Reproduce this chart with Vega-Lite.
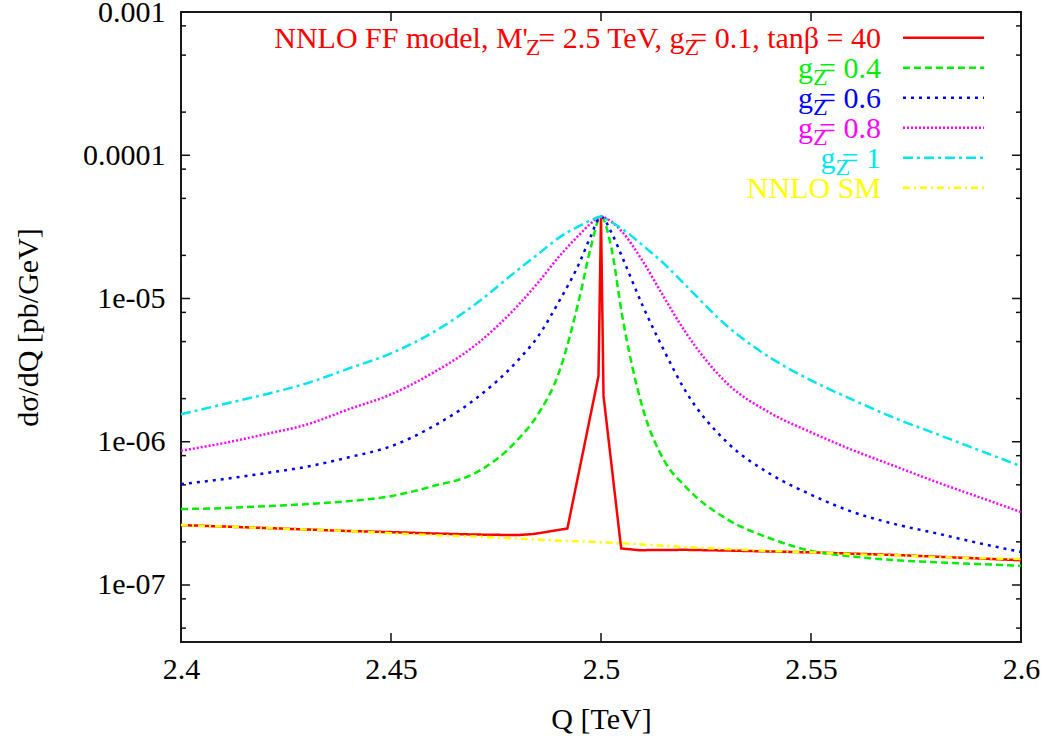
{
  "$schema": "https://vega.github.io/schema/vega-lite/v6.json",
  "autosize": "none",
  "width": 840,
  "height": 630,
  "padding": {"left": 181, "top": 12, "right": 23, "bottom": 96},
  "background": "white",
  "config": {
    "view": {"stroke": "#1a1a1a", "strokeWidth": 2},
    "font": "Liberation Serif",
    "text": {"font": "Liberation Serif"}
  },
  "datasets": {
    "curves": [
      {"s":"g01","Q":2.40,"v":2.62e-7},{"s":"g01","Q":2.41,"v":2.56e-7},{"s":"g01","Q":2.42,"v":2.50e-7},{"s":"g01","Q":2.43,"v":2.44e-7},{"s":"g01","Q":2.44,"v":2.38e-7},{"s":"g01","Q":2.45,"v":2.34e-7},{"s":"g01","Q":2.46,"v":2.29e-7},{"s":"g01","Q":2.47,"v":2.25e-7},{"s":"g01","Q":2.48,"v":2.23e-7},{"s":"g01","Q":2.484,"v":2.27e-7},{"s":"g01","Q":2.492,"v":2.48e-7},{"s":"g01","Q":2.4994,"v":2.87e-6},{"s":"g01","Q":2.5,"v":3.74e-5},{"s":"g01","Q":2.5006,"v":2.09e-6},{"s":"g01","Q":2.5048,"v":1.80e-7},{"s":"g01","Q":2.5091,"v":1.75e-7},{"s":"g01","Q":2.52,"v":1.76e-7},{"s":"g01","Q":2.53,"v":1.74e-7},{"s":"g01","Q":2.55,"v":1.69e-7},{"s":"g01","Q":2.57,"v":1.62e-7},{"s":"g01","Q":2.6,"v":1.49e-7},

      {"s":"g04","Q":2.40,"v":3.39e-7},{"s":"g04","Q":2.41,"v":3.44e-7},{"s":"g04","Q":2.42,"v":3.55e-7},{"s":"g04","Q":2.43,"v":3.67e-7},{"s":"g04","Q":2.44,"v":3.85e-7},{"s":"g04","Q":2.45,"v":4.17e-7},{"s":"g04","Q":2.46,"v":4.90e-7},{"s":"g04","Q":2.47,"v":6.03e-7},{"s":"g04","Q":2.48,"v":1.02e-6},{"s":"g04","Q":2.485,"v":1.555e-6},{"s":"g04","Q":2.49,"v":3.05e-6},{"s":"g04","Q":2.495,"v":1.05e-5},{"s":"g04","Q":2.4975,"v":2.23e-5},{"s":"g04","Q":2.5,"v":3.73e-5},{"s":"g04","Q":2.5025,"v":2.23e-5},{"s":"g04","Q":2.505,"v":7.74e-6},{"s":"g04","Q":2.51,"v":1.69e-6},{"s":"g04","Q":2.515,"v":7.43e-7},{"s":"g04","Q":2.52,"v":4.90e-7},{"s":"g04","Q":2.53,"v":2.88e-7},{"s":"g04","Q":2.54,"v":2.13e-7},{"s":"g04","Q":2.55,"v":1.73e-7},{"s":"g04","Q":2.56,"v":1.58e-7},{"s":"g04","Q":2.57,"v":1.49e-7},{"s":"g04","Q":2.58,"v":1.44e-7},{"s":"g04","Q":2.59,"v":1.40e-7},{"s":"g04","Q":2.6,"v":1.36e-7},

      {"s":"g06","Q":2.40,"v":5.06e-7},{"s":"g06","Q":2.41,"v":5.48e-7},{"s":"g06","Q":2.42,"v":6.03e-7},{"s":"g06","Q":2.43,"v":6.70e-7},{"s":"g06","Q":2.44,"v":7.80e-7},{"s":"g06","Q":2.45,"v":9.30e-7},{"s":"g06","Q":2.46,"v":1.28e-6},{"s":"g06","Q":2.47,"v":1.98e-6},{"s":"g06","Q":2.48,"v":3.64e-6},{"s":"g06","Q":2.485,"v":5.43e-6},{"s":"g06","Q":2.49,"v":9.53e-6},{"s":"g06","Q":2.495,"v":1.81e-5},{"s":"g06","Q":2.4975,"v":2.70e-5},{"s":"g06","Q":2.5,"v":3.73e-5},{"s":"g06","Q":2.5025,"v":2.88e-5},{"s":"g06","Q":2.505,"v":1.96e-5},{"s":"g06","Q":2.51,"v":8.80e-6},{"s":"g06","Q":2.515,"v":4.34e-6},{"s":"g06","Q":2.52,"v":2.29e-6},{"s":"g06","Q":2.53,"v":9.92e-7},{"s":"g06","Q":2.54,"v":6.03e-7},{"s":"g06","Q":2.55,"v":4.27e-7},{"s":"g06","Q":2.56,"v":3.23e-7},{"s":"g06","Q":2.57,"v":2.66e-7},{"s":"g06","Q":2.58,"v":2.29e-7},{"s":"g06","Q":2.59,"v":1.96e-7},{"s":"g06","Q":2.6,"v":1.70e-7},

      {"s":"g08","Q":2.40,"v":8.66e-7},{"s":"g08","Q":2.41,"v":9.76e-7},{"s":"g08","Q":2.42,"v":1.128e-6},{"s":"g08","Q":2.43,"v":1.32e-6},{"s":"g08","Q":2.44,"v":1.69e-6},{"s":"g08","Q":2.45,"v":2.14e-6},{"s":"g08","Q":2.46,"v":3.03e-6},{"s":"g08","Q":2.47,"v":4.70e-6},{"s":"g08","Q":2.48,"v":8.80e-6},{"s":"g08","Q":2.485,"v":1.29e-5},{"s":"g08","Q":2.49,"v":1.96e-5},{"s":"g08","Q":2.495,"v":2.82e-5},{"s":"g08","Q":2.4975,"v":3.33e-5},{"s":"g08","Q":2.5,"v":3.73e-5},{"s":"g08","Q":2.5025,"v":3.44e-5},{"s":"g08","Q":2.505,"v":2.93e-5},{"s":"g08","Q":2.51,"v":1.81e-5},{"s":"g08","Q":2.515,"v":1.02e-5},{"s":"g08","Q":2.52,"v":5.89e-6},{"s":"g08","Q":2.53,"v":2.56e-6},{"s":"g08","Q":2.54,"v":1.605e-6},{"s":"g08","Q":2.55,"v":1.165e-6},{"s":"g08","Q":2.56,"v":8.73e-7},{"s":"g08","Q":2.57,"v":6.75e-7},{"s":"g08","Q":2.58,"v":5.22e-7},{"s":"g08","Q":2.59,"v":4.11e-7},{"s":"g08","Q":2.6,"v":3.23e-7},

      {"s":"g10","Q":2.40,"v":1.555e-6},{"s":"g10","Q":2.41,"v":1.825e-6},{"s":"g10","Q":2.42,"v":2.14e-6},{"s":"g10","Q":2.43,"v":2.56e-6},{"s":"g10","Q":2.44,"v":3.25e-6},{"s":"g10","Q":2.45,"v":4.14e-6},{"s":"g10","Q":2.46,"v":5.80e-6},{"s":"g10","Q":2.47,"v":9.08e-6},{"s":"g10","Q":2.48,"v":1.567e-5},{"s":"g10","Q":2.485,"v":2.04e-5},{"s":"g10","Q":2.49,"v":2.66e-5},{"s":"g10","Q":2.495,"v":3.23e-5},{"s":"g10","Q":2.4975,"v":3.50e-5},{"s":"g10","Q":2.5,"v":3.73e-5},{"s":"g10","Q":2.5025,"v":3.41e-5},{"s":"g10","Q":2.505,"v":3.07e-5},{"s":"g10","Q":2.51,"v":2.34e-5},{"s":"g10","Q":2.515,"v":1.75e-5},{"s":"g10","Q":2.52,"v":1.25e-5},{"s":"g10","Q":2.53,"v":6.43e-6},{"s":"g10","Q":2.54,"v":3.91e-6},{"s":"g10","Q":2.55,"v":2.68e-6},{"s":"g10","Q":2.56,"v":1.96e-6},{"s":"g10","Q":2.57,"v":1.46e-6},{"s":"g10","Q":2.58,"v":1.13e-6},{"s":"g10","Q":2.59,"v":8.73e-7},{"s":"g10","Q":2.6,"v":6.75e-7},

      {"s":"sm","Q":2.40,"v":2.62e-7},{"s":"sm","Q":2.41,"v":2.56e-7},{"s":"sm","Q":2.42,"v":2.50e-7},{"s":"sm","Q":2.43,"v":2.44e-7},{"s":"sm","Q":2.44,"v":2.38e-7},{"s":"sm","Q":2.45,"v":2.30e-7},{"s":"sm","Q":2.46,"v":2.23e-7},{"s":"sm","Q":2.47,"v":2.18e-7},{"s":"sm","Q":2.48,"v":2.11e-7},{"s":"sm","Q":2.49,"v":2.04e-7},{"s":"sm","Q":2.50,"v":1.99e-7},{"s":"sm","Q":2.51,"v":1.92e-7},{"s":"sm","Q":2.52,"v":1.84e-7},{"s":"sm","Q":2.53,"v":1.78e-7},{"s":"sm","Q":2.54,"v":1.73e-7},{"s":"sm","Q":2.55,"v":1.69e-7},{"s":"sm","Q":2.56,"v":1.64e-7},{"s":"sm","Q":2.57,"v":1.61e-7},{"s":"sm","Q":2.58,"v":1.57e-7},{"s":"sm","Q":2.59,"v":1.54e-7},{"s":"sm","Q":2.60,"v":1.52e-7}
    ],
    "legend": [
      {"s":"g01","rank":0,"head":"NNLO FF model, M'","mid":"= 2.5 TeV, g","tail":"= 0.1, tanβ = 40"},
      {"s":"g04","rank":1,"mid":"g","tail":"= 0.4"},
      {"s":"g06","rank":2,"mid":"g","tail":"= 0.6"},
      {"s":"g08","rank":3,"mid":"g","tail":"= 0.8"},
      {"s":"g10","rank":4,"mid":"g","tail":"= 1"},
      {"s":"sm","rank":5,"tail":"NNLO SM"}
    ],
    "yticks": [
      {"v":5e-8,"kind":"minor"},{"v":8e-8,"kind":"minor"},{"v":1e-7,"kind":"major"},{"v":2e-7,"kind":"minor"},{"v":5e-7,"kind":"minor"},{"v":8e-7,"kind":"minor"},
      {"v":1e-6,"kind":"major"},{"v":2e-6,"kind":"minor"},{"v":5e-6,"kind":"minor"},{"v":8e-6,"kind":"minor"},
      {"v":1e-5,"kind":"major"},{"v":2e-5,"kind":"minor"},{"v":5e-5,"kind":"minor"},{"v":8e-5,"kind":"minor"},
      {"v":1e-4,"kind":"major"},{"v":2e-4,"kind":"minor"},{"v":5e-4,"kind":"minor"},{"v":8e-4,"kind":"minor"},{"v":1e-3,"kind":"major"}
    ],
    "xticks": [{"q":2.45},{"q":2.5},{"q":2.55}]
  },
  "resolve": {"scale": {"y": "independent"}, "axis": {"x": "independent", "y": "independent"}},
  "layer": [
    {
      "data": {"name": "yticks"},
      "transform": [{"filter": "datum.kind == 'major'"}],
      "mark": {"type": "rule", "color": "#111", "strokeWidth": 1.5},
      "encoding": {
        "x": {"datum": 2.4, "type": "quantitative", "axis": null},
        "x2": {"datum": 2.402143},
        "y": {"field": "v", "type": "quantitative", "scale": {"type": "log", "domain": [4e-8, 1e-3], "nice": false}, "axis": null}
      }
    },
    {
      "data": {"name": "yticks"},
      "transform": [{"filter": "datum.kind == 'major'"}],
      "mark": {"type": "rule", "color": "#111", "strokeWidth": 1.5},
      "encoding": {
        "x": {"datum": 2.597857, "type": "quantitative", "axis": null},
        "x2": {"datum": 2.6},
        "y": {"field": "v", "type": "quantitative", "scale": {"type": "log", "domain": [4e-8, 1e-3], "nice": false}, "axis": null}
      }
    },
    {
      "data": {"name": "yticks"},
      "transform": [{"filter": "datum.kind == 'minor'"}],
      "mark": {"type": "rule", "color": "#111", "strokeWidth": 1.5},
      "encoding": {
        "x": {"datum": 2.4, "type": "quantitative", "axis": null},
        "x2": {"datum": 2.40119},
        "y": {"field": "v", "type": "quantitative", "scale": {"type": "log", "domain": [4e-8, 1e-3], "nice": false}, "axis": null}
      }
    },
    {
      "data": {"name": "yticks"},
      "transform": [{"filter": "datum.kind == 'minor'"}],
      "mark": {"type": "rule", "color": "#111", "strokeWidth": 1.5},
      "encoding": {
        "x": {"datum": 2.59881, "type": "quantitative", "axis": null},
        "x2": {"datum": 2.6},
        "y": {"field": "v", "type": "quantitative", "scale": {"type": "log", "domain": [4e-8, 1e-3], "nice": false}, "axis": null}
      }
    },
    {
      "data": {"name": "xticks"},
      "mark": {"type": "rule", "color": "#111", "strokeWidth": 1.5},
      "encoding": {
        "x": {"field": "q", "type": "quantitative", "axis": null},
        "y": {"datum": 4e-8, "type": "quantitative", "scale": {"type": "log", "domain": [4e-8, 1e-3], "nice": false}, "axis": null},
        "y2": {"datum": 4.621e-8}
      }
    },
    {
      "data": {"name": "xticks"},
      "mark": {"type": "rule", "color": "#111", "strokeWidth": 1.5},
      "encoding": {
        "x": {"field": "q", "type": "quantitative", "axis": null},
        "y": {"datum": 8.656e-4, "type": "quantitative", "scale": {"type": "log", "domain": [4e-8, 1e-3], "nice": false}, "axis": null},
        "y2": {"datum": 1e-3}
      }
    },
    {
      "data": {"name": "curves"},
      "transform": [{"filter": "datum.s == 'g01'"}],
      "mark": {"type": "line", "strokeWidth": 2.5, "clip": true},
      "encoding": {
        "x": {"field": "Q", "type": "quantitative", "axis": null},
        "y": {"field": "v", "type": "quantitative", "scale": {"type": "log", "domain": [4e-8, 1e-3], "nice": false}, "axis": null},
        "color": {"field": "s", "type": "nominal", "legend": null},
        "strokeDash": {"field": "s", "type": "nominal", "legend": null}
      }
    },
    {
      "data": {"name": "curves"},
      "transform": [{"filter": "datum.s != 'g01'"}],
      "mark": {"type": "line", "strokeWidth": 2.5, "clip": true, "interpolate": "monotone"},
      "encoding": {
        "x": {"field": "Q", "type": "quantitative", "scale": {"domain": [2.4, 2.6], "nice": false, "zero": false},
          "axis": {"orient": "bottom", "values": [2.4, 2.45, 2.5, 2.55, 2.6], "format": ".2~f", "ticks": false, "domain": false, "grid": false,
            "labelPadding": 12, "labelFont": "Liberation Serif", "labelFontSize": 30, "labelColor": "#000", "labelFlush": false, "labelOverlap": false,
            "title": "Q [TeV]", "titleFont": "Liberation Serif", "titleFontSize": 30, "titleFontWeight": "normal", "titleColor": "#000", "titlePadding": 20}},
        "y": {"field": "v", "type": "quantitative", "scale": {"type": "log", "domain": [4e-8, 1e-3], "nice": false},
          "axis": {"orient": "left", "values": [1e-7, 1e-6, 1e-5, 1e-4, 1e-3],
            "labelExpr": "datum.value == 0.001 ? '0.001' : datum.value == 0.0001 ? '0.0001' : datum.value == 1e-5 ? '1e-05' : datum.value == 1e-6 ? '1e-06' : '1e-07'",
            "ticks": false, "domain": false, "grid": false,
            "labelPadding": 16, "labelFont": "Liberation Serif", "labelFontSize": 30, "labelColor": "#000",
            "labelFlush": false, "labelOverlap": false,
            "title": "dσ/dQ [pb/GeV]", "titleFont": "Liberation Serif", "titleFontSize": 30, "titleFontWeight": "normal", "titleColor": "#000", "titlePadding": 39}},
        "color": {"field": "s", "type": "nominal", "scale": {"domain": ["g01","g04","g06","g08","g10","sm"], "range": ["#ff0000","#00ee00","#0000ff","#ff00ff","#00e5ee","#ffff00"]}, "legend": null},
        "strokeDash": {"field": "s", "type": "nominal", "scale": {"domain": ["g01","g04","g06","g08","g10","sm"], "range": [[1,0],[7,4],[3,5],[2,2],[10,4,3,4],[7,4,2,4]]}, "legend": null}
      }
    },
    {
      "data": {"name": "legend"},
      "mark": {"type": "rule", "strokeWidth": 2.5},
      "encoding": {
        "x": {"datum": 2.5719, "type": "quantitative", "axis": null},
        "x2": {"datum": 2.5912},
        "y": {"field": "rank", "type": "quantitative", "scale": {"domain": [-0.8567, 20.1433], "reverse": true, "nice": false, "zero": false}, "axis": null},
        "color": {"field": "s", "type": "nominal", "legend": null},
        "strokeDash": {"field": "s", "type": "nominal", "legend": null}
      }
    },
    {
      "data": {"name": "legend"},
      "mark": {"type": "text", "align": "right", "baseline": "alphabetic", "dy": 10, "font": "Liberation Serif", "fontSize": 30},
      "encoding": {
        "x": {"datum": 2.566667, "type": "quantitative", "axis": null},
        "y": {"field": "rank", "type": "quantitative", "scale": {"domain": [-0.8567, 20.1433], "reverse": true, "nice": false, "zero": false}, "axis": null},
        "text": {"field": "tail"},
        "color": {"field": "s", "type": "nominal", "legend": null}
      }
    },
    {
      "data": {"name": "legend"},
      "transform": [{"filter": "datum.rank == 0"}],
      "mark": {"type": "text", "align": "right", "baseline": "alphabetic", "dx": -196.5, "dy": 10, "font": "Liberation Serif", "fontSize": 30},
      "encoding": {
        "x": {"datum": 2.566667, "type": "quantitative", "axis": null},
        "y": {"field": "rank", "type": "quantitative", "scale": {"domain": [-0.8567, 20.1433], "reverse": true, "nice": false, "zero": false}, "axis": null},
        "text": {"field": "mid"},
        "color": {"field": "s", "type": "nominal", "legend": null}
      }
    },
    {
      "data": {"name": "legend"},
      "transform": [{"filter": "datum.rank >= 1 && datum.rank <= 3"}],
      "mark": {"type": "text", "align": "right", "baseline": "alphabetic", "dx": -67.9, "dy": 10, "font": "Liberation Serif", "fontSize": 30},
      "encoding": {
        "x": {"datum": 2.566667, "type": "quantitative", "axis": null},
        "y": {"field": "rank", "type": "quantitative", "scale": {"domain": [-0.8567, 20.1433], "reverse": true, "nice": false, "zero": false}, "axis": null},
        "text": {"field": "mid"},
        "color": {"field": "s", "type": "nominal", "legend": null}
      }
    },
    {
      "data": {"name": "legend"},
      "transform": [{"filter": "datum.rank == 4"}],
      "mark": {"type": "text", "align": "right", "baseline": "alphabetic", "dx": -45.4, "dy": 10, "font": "Liberation Serif", "fontSize": 30},
      "encoding": {
        "x": {"datum": 2.566667, "type": "quantitative", "axis": null},
        "y": {"field": "rank", "type": "quantitative", "scale": {"domain": [-0.8567, 20.1433], "reverse": true, "nice": false, "zero": false}, "axis": null},
        "text": {"field": "mid"},
        "color": {"field": "s", "type": "nominal", "legend": null}
      }
    },
    {
      "data": {"name": "legend"},
      "transform": [{"filter": "datum.rank == 0"}],
      "mark": {"type": "text", "align": "left", "baseline": "alphabetic", "dx": -196.5, "dy": 17, "font": "Liberation Serif", "fontSize": 24, "text": "Z"},
      "encoding": {
        "x": {"datum": 2.566667, "type": "quantitative", "axis": null},
        "y": {"field": "rank", "type": "quantitative", "scale": {"domain": [-0.8567, 20.1433], "reverse": true, "nice": false, "zero": false}, "axis": null},
        "color": {"field": "s", "type": "nominal", "legend": null}
      }
    },
    {
      "data": {"name": "legend"},
      "transform": [{"filter": "datum.rank >= 1 && datum.rank <= 3"}],
      "mark": {"type": "text", "align": "left", "baseline": "alphabetic", "dx": -67.9, "dy": 17, "font": "Liberation Serif", "fontSize": 24, "text": "Z"},
      "encoding": {
        "x": {"datum": 2.566667, "type": "quantitative", "axis": null},
        "y": {"field": "rank", "type": "quantitative", "scale": {"domain": [-0.8567, 20.1433], "reverse": true, "nice": false, "zero": false}, "axis": null},
        "color": {"field": "s", "type": "nominal", "legend": null}
      }
    },
    {
      "data": {"name": "legend"},
      "transform": [{"filter": "datum.rank == 4"}],
      "mark": {"type": "text", "align": "left", "baseline": "alphabetic", "dx": -45.4, "dy": 17, "font": "Liberation Serif", "fontSize": 24, "text": "Z"},
      "encoding": {
        "x": {"datum": 2.566667, "type": "quantitative", "axis": null},
        "y": {"field": "rank", "type": "quantitative", "scale": {"domain": [-0.8567, 20.1433], "reverse": true, "nice": false, "zero": false}, "axis": null},
        "color": {"field": "s", "type": "nominal", "legend": null}
      }
    },
    {
      "data": {"name": "legend"},
      "transform": [{"filter": "datum.rank == 0"}],
      "mark": {"type": "text", "align": "right", "baseline": "alphabetic", "dx": -353, "dy": 10, "font": "Liberation Serif", "fontSize": 30},
      "encoding": {
        "x": {"datum": 2.566667, "type": "quantitative", "axis": null},
        "y": {"field": "rank", "type": "quantitative", "scale": {"domain": [-0.8567, 20.1433], "reverse": true, "nice": false, "zero": false}, "axis": null},
        "text": {"field": "head"},
        "color": {"field": "s", "type": "nominal", "legend": null}
      }
    },
    {
      "data": {"name": "legend"},
      "transform": [{"filter": "datum.rank == 0"}],
      "mark": {"type": "text", "align": "left", "baseline": "alphabetic", "dx": -355.2, "dy": 17, "font": "Liberation Serif", "fontSize": 24, "text": "Z"},
      "encoding": {
        "x": {"datum": 2.566667, "type": "quantitative", "axis": null},
        "y": {"field": "rank", "type": "quantitative", "scale": {"domain": [-0.8567, 20.1433], "reverse": true, "nice": false, "zero": false}, "axis": null},
        "color": {"field": "s", "type": "nominal", "legend": null}
      }
    }
  ]
}
